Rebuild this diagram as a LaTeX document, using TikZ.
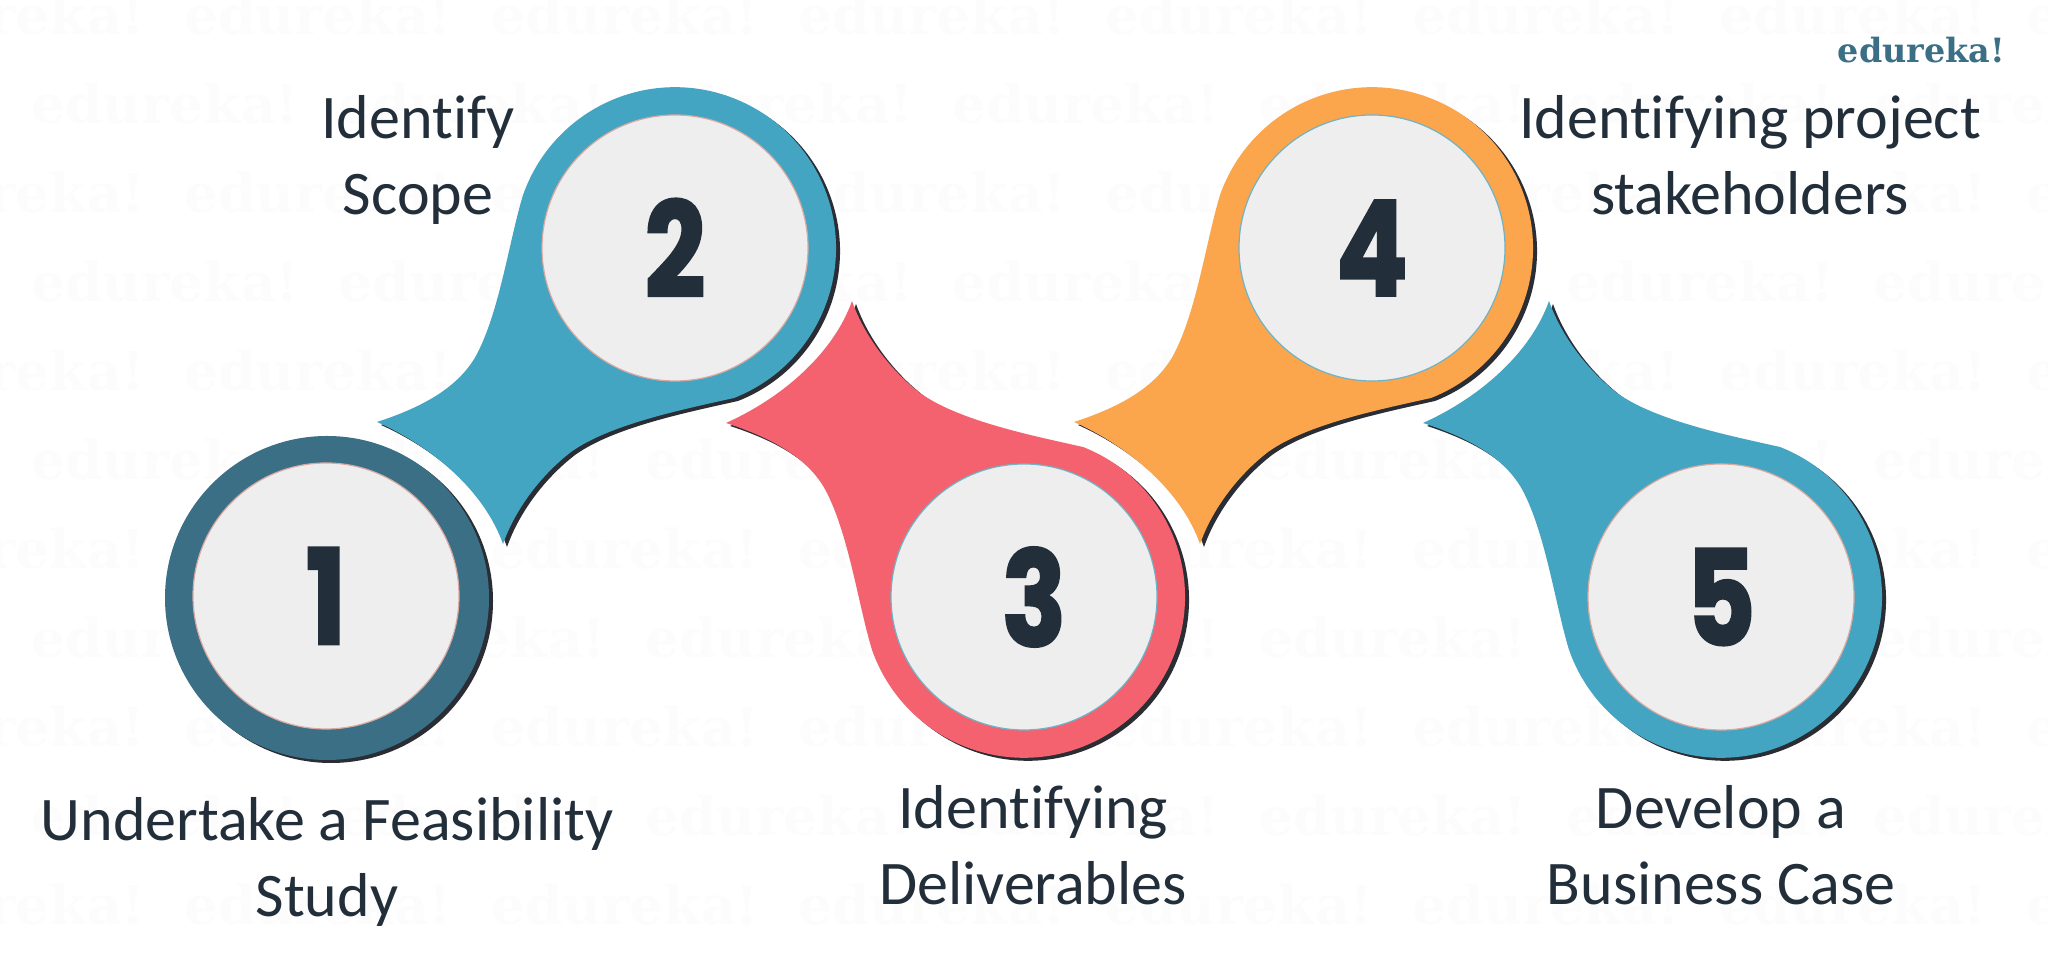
\documentclass[tikz,border=0pt]{standalone}
\usepackage{fontspec}
\setmainfont[Ligatures=NoCommon]{Carlito}
\newfontfamily\numfont[FakeStretch=0.8, BoldFeatures={FakeBold=2}]{Poppins}
\newfontfamily\markfont{DejaVu Serif}
\usetikzlibrary{positioning, calc}
\definecolor{ringblue}{HTML}{44A5C2}
\definecolor{ringred}{HTML}{F3626E}
\definecolor{ringorange}{HTML}{FBA54C}
\definecolor{ringteal}{HTML}{3A6F86}
\definecolor{shadowgrey}{HTML}{2A2D33}
\definecolor{discgrey}{HTML}{EEEEEE}
\definecolor{inkdark}{HTML}{222E3A}
\definecolor{markgrey}{HTML}{FCFCFC}
\definecolor{edgepink}{HTML}{D9A8A0}
\definecolor{edgeblue}{HTML}{6FB3C6}

\begin{document}
\begin{tikzpicture}[
        x=0.5pt, y=0.5pt,
        dropshape/.style={insert path={
            (-298,-174) .. controls (-240,-200) and (-190,-245) .. (-172,-296)
            .. controls (-160,-262) and (-135,-228) .. (-104,-204)
            .. controls (-65,-176) and (10,-161) .. (59,-150)
            arc[start angle=-68.5, end angle=161, radius=161]
            .. controls (-166,6) and (-175,-60) .. (-197,-104)
            .. controls (-215,-140) and (-255,-160) .. (-298,-174) -- cycle}},
        disc/.style={circle, fill=discgrey, draw=#1, line width=0.6pt, inner sep=0pt, minimum size=133pt,
            text=inkdark, font=\numfont\bfseries\fontsize{66}{66}\selectfont},
        steplabel/.style={align=center, text=inkdark, font=\fontsize{31}{38}\selectfont},
        watermark/.style={anchor=base west, text=markgrey, font=\markfont\bfseries\fontsize{26.8}{26.8}\selectfont}
    ]
    \useasboundingbox (0,0) rectangle (2048,972);

    % faint background marks
    \foreach \r in {0,1,...,10} {
        \pgfmathtruncatemacro{\odd}{mod(\r,2)}
        \foreach \c in {0,1,...,7} {
            \pgfmathsetmacro{\wx}{(\odd==0 ? -130 : 24) + 307*\c}
            \pgfmathsetmacro{\wy}{972 - 35 - 89*\r}
            \node[watermark] (mark\r\c) at (\wx,\wy) {edureka!};
        }
    }

    % shadows
    \fill[shadowgrey] (331,371) circle[radius=162];
    \fill[shadowgrey, shift={(679,721)}, dropshape];
    \fill[shadowgrey, shift={(1028,372)}, yscale=-1, dropshape];
    \fill[shadowgrey, shift={(1376,721)}, dropshape];
    \fill[shadowgrey, shift={(1725,372)}, yscale=-1, dropshape];

    % coloured drops
    \fill[ringteal] (327,374) circle[radius=162];
    \fill[ringblue, shift={(675,724)}, dropshape];
    \fill[ringred, shift={(1024,375)}, yscale=-1, dropshape];
    \fill[ringorange, shift={(1372,724)}, dropshape];
    \fill[ringblue, shift={(1721,375)}, yscale=-1, dropshape];

    % numbered discs
    \node[disc=edgepink] (disc1) at (326,376) {1};
    \node[disc=edgepink] (disc2) at (675,724) {2};
    \node[disc=edgeblue] (disc3) at (1024,375) {\hspace{10pt}3};
    \node[disc=edgeblue] (disc4) at (1372,724) {4};
    \node[disc=edgepink] (disc5) at (1721,375) {5};

    % step labels
    \node[steplabel] (label1) at (327,110) {Undertake a Feasibility\\Study};
    \node[steplabel] (label2) at (418,812) {Identify\\Scope};
    \node[steplabel] (label3) at (1033,127) {Identifying\\Deliverables};
    \node[steplabel] (label4) at (1750,817) {Identifying project\\stakeholders};
    \node[steplabel] (label5) at (1721,127) {Develop a\\Business Case};

    \node[anchor=base east, text=ringteal, font=\markfont\bfseries\fontsize{16.7}{16.7}\selectfont] (logo) at (2012,909) {edureka!};
\end{tikzpicture}
\end{document}
